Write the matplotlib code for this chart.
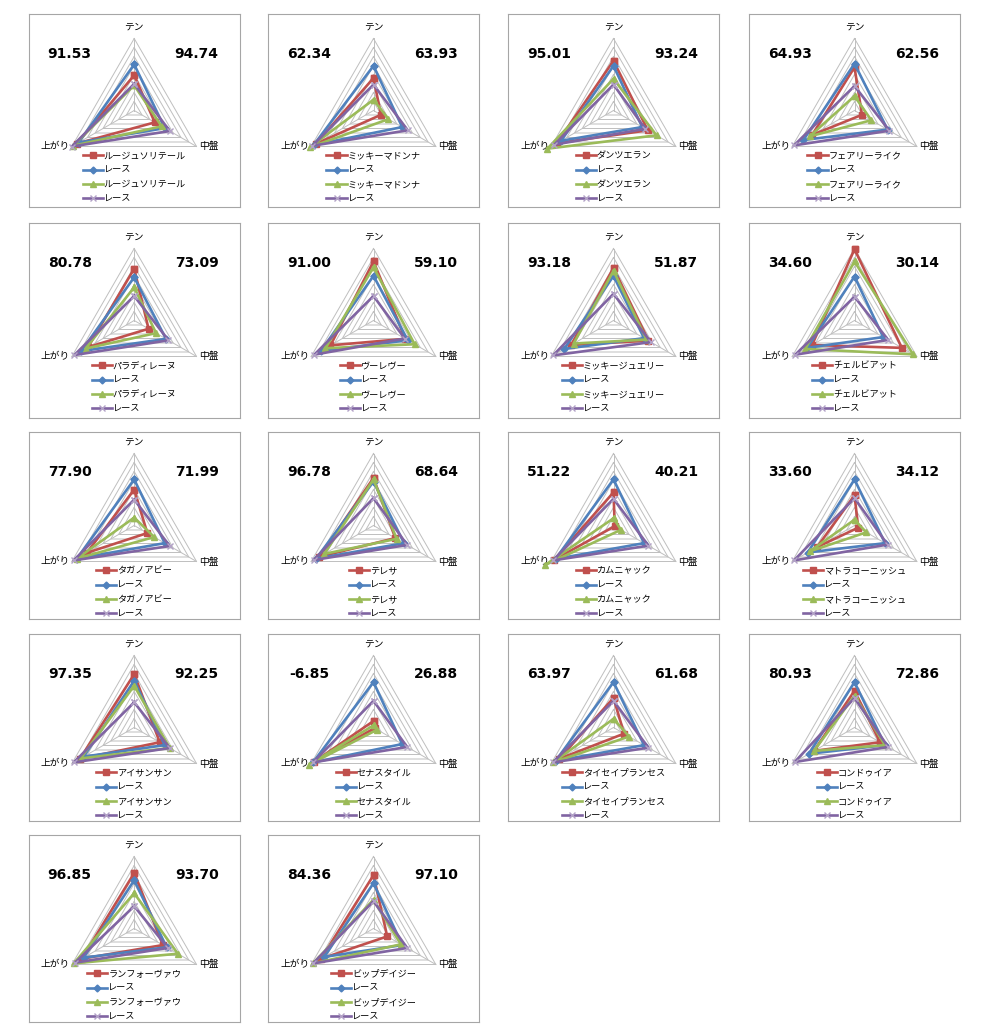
import numpy as np
import matplotlib.pyplot as plt

plt.rcParams['font.family'] = ['Noto Sans CJK JP', 'DejaVu Sans']

names = ['ルージュソリテール', 'ミッキーマドンナ', 'ダンツエラン', 'フェアリーライク',
         'パラディレーヌ', 'ヴーレヴー', 'ミッキージュエリー', 'チェルビアット',
         'タガノアビー', 'テレサ', 'カムニャック', 'マトラコーニッシュ',
         'アイサンサン', 'セナスタイル', 'タイセイプランセス', 'コンドゥイア',
         'ランフォーヴァウ', 'ビップデイジー']
left_vals = ['91.53', '62.34', '95.01', '64.93', '80.78', '91.00', '93.18', '34.60',
             '77.90', '96.78', '51.22', '33.60', '97.35', '-6.85', '63.97', '80.93',
             '96.85', '84.36']
right_vals = ['94.74', '63.93', '93.24', '62.56', '73.09', '59.10', '51.87', '30.14',
              '71.99', '68.64', '40.21', '34.12', '92.25', '26.88', '61.68', '72.86',
              '93.70', '97.10']
axis_labels = ['テン', '中盤', '上がり']
race_label = 'レース'

# horse (red)
ten_red = [49, 45, 69, 60, 72, 82, 73, 99, 50, 66, 46, 42, 74, 9, 41, 51, 77, 74]
chu_red = [33, 12, 55, 12, 23, 51, 56, 76, 21, 35, 2, 6, 41, 2, 17, 41, 46, 22]
aga_red = [92, 93, 91, 68, 74, 69, 68, 68, 76, 87, 95, 60, 87, 95, 87, 65, 84, 84]
# race (blue)
ten_blue = [64, 62, 62, 65, 60, 62, 62, 61, 64, 61, 64, 64, 65, 63, 63, 63, 67, 63]
chu_blue = [49, 46, 46, 53, 51, 55, 49, 46, 49, 49, 49, 49, 49, 46, 49, 49, 52, 46]
aga_blue = [89, 96, 84, 82, 85, 84, 79, 76, 92, 92, 93, 75, 81, 97, 93, 73, 81, 79]
# horse (green)
ten_green = [35, 15, 44, 20, 46, 74, 69, 82, 11, 64, 10, 8, 58, 3, 12, 44, 49, 40]
chu_green = [44, 24, 69, 27, 35, 66, 53, 94, 32, 37, 12, 19, 57, 6, 25, 49, 70, 44]
aga_green = [98, 102, 106, 72, 78, 77, 64, 79, 92, 79, 110, 72, 86, 103, 97, 65, 97, 97]
# race (purple)
ten_purple = [37, 36, 36, 34, 34, 34, 37, 33, 36, 38, 37, 38, 35, 37, 37, 41, 31, 38]
chu_purple = [57, 55, 51, 56, 55, 50, 60, 54, 57, 54, 56, 53, 57, 54, 56, 54, 54, 54]
aga_purple = [100, 98, 95, 97, 96, 95, 97, 95, 97, 96, 97, 97, 97, 97, 97, 96, 95, 97]

series = [
    (ten_red, chu_red, aga_red, '#C0504D', 's', 4.5),
    (ten_blue, chu_blue, aga_blue, '#4F81BD', 'D', 3.5),
    (ten_green, chu_green, aga_green, '#9BBB59', '^', 5),
    (ten_purple, chu_purple, aga_purple, '#8064A2', 'x', 5),
]

angles = np.deg2rad([90, -30, 210])


def to_xy(vals):
    v = np.append(vals, vals[0]) / 100.0
    a = np.append(angles, angles[0])
    return v * np.cos(a), v * np.sin(a)


fig = plt.figure(figsize=(9.88, 10.24), dpi=100)
FW, FH = 988, 1024

col_left = [28.7, 268, 508, 749]
row_top = [14, 223, 432, 634, 835]
row_h = [193, 195, 187, 187, 187]
box_w = 211
R = 72.0

for i, name in enumerate(names):
    row, col = i // 4, i % 4
    h = row_h[row]
    ax = fig.add_axes([col_left[col] / FW, 1 - (row_top[row] + h) / FH, box_w / FW, h / FH])
    ax.set_xlim(-box_w / 2 / R, box_w / 2 / R)
    ax.set_ylim(-h / 2 / R, h / 2 / R)
    ax.set_xticks([])
    ax.set_yticks([])
    for s in ax.spines.values():
        s.set_color('#A6A6A6')
        s.set_linewidth(0.8)

    # grid
    for k in range(1, 9):
        gx, gy = to_xy([k * 12.5] * 3)
        ax.plot(gx, gy, color='#BFBFBF', lw=0.7, zorder=1)
    for a in angles:
        ax.plot([0, np.cos(a)], [0, np.sin(a)], color='#BFBFBF', lw=0.7, zorder=1)

    handles = []
    for j, (ten, chu, aga, c, m, ms) in enumerate(series):
        x, y = to_xy([ten[i], chu[i], aga[i]])
        mc = '#B3A2C7' if m == 'x' else c
        ln, = ax.plot(x, y, color=c, lw=1.9, marker=m, ms=ms, mfc=mc, mec=mc,
                      mew=1.0, clip_on=False, zorder=3 + j)
        handles.append(ln)

    ax.legend(handles, [name, race_label, name, race_label], loc='upper center',
              bbox_to_anchor=(0.5, 0.5 - 41 / h), frameon=False, fontsize=6.6,
              handlelength=2.2, handletextpad=0.1, labelspacing=0.58,
              borderpad=0, borderaxespad=0, numpoints=1)

    ax.text(0, 1 + 12 / R, axis_labels[0], ha='center', va='center', fontsize=7)
    ax.text(65 / R, -0.5, axis_labels[1], ha='left', va='center', fontsize=7)
    ax.text(-64 / R, -0.5, axis_labels[2], ha='right', va='center', fontsize=7)

    ny = (h / 2 - 40) / R
    ax.text((41 - box_w / 2) / R, ny, left_vals[i], ha='center', va='center',
            fontsize=10, fontweight='bold', family='DejaVu Sans')
    ax.text((168 - box_w / 2) / R, ny, right_vals[i], ha='center', va='center',
            fontsize=10, fontweight='bold', family='DejaVu Sans')

fig.savefig('out.png', dpi=100)
